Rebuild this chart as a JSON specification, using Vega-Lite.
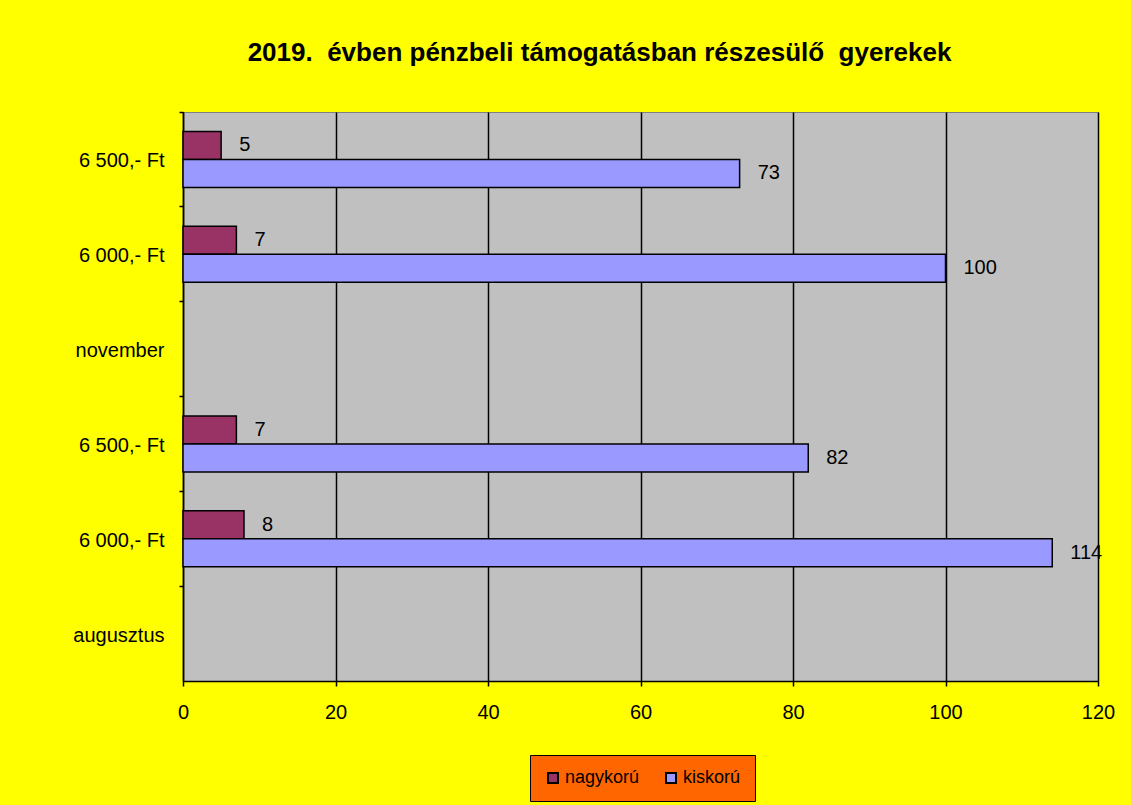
{
  "$schema": "https://vega.github.io/schema/vega-lite/v6.json",
  "width": 915,
  "height": 569,
  "autosize": {"type": "none"},
  "padding": {"left": 183, "top": 112, "right": 33, "bottom": 124},
  "background": "#FFFF00",
  "title": {
    "text": "2019.\u00a0 évben pénzbeli támogatásban részesülő\u00a0 gyerekek",
    "font": "Liberation Sans",
    "fontSize": 26,
    "fontWeight": "bold",
    "color": "black",
    "anchor": "middle",
    "frame": "group",
    "dx": -41,
    "baseline": "alphabetic",
    "offset": 24
  },
  "config": {
    "view": {"fill": "#C0C0C0", "stroke": "#808080", "strokeWidth": 1},
    "font": "Liberation Sans"
  },
  "data": {
    "values": [
      {"cat": "c1", "series": "nagykorú", "value": 5},
      {"cat": "c1", "series": "kiskorú", "value": 73},
      {"cat": "c2", "series": "nagykorú", "value": 7},
      {"cat": "c2", "series": "kiskorú", "value": 100},
      {"cat": "c4", "series": "nagykorú", "value": 7},
      {"cat": "c4", "series": "kiskorú", "value": 82},
      {"cat": "c5", "series": "nagykorú", "value": 8},
      {"cat": "c5", "series": "kiskorú", "value": 114}
    ]
  },
  "encoding": {
    "y": {
      "field": "cat",
      "type": "nominal",
      "scale": {"domain": ["c1", "c2", "c3", "c4", "c5", "c6"], "paddingInner": 0, "paddingOuter": 0},
      "axis": {
        "title": null,
        "bandPosition": 0,
        "labelExpr": "datum.value == 'c1' ? '6 500,- Ft' : datum.value == 'c2' ? '6 000,- Ft' : datum.value == 'c3' ? 'november' : datum.value == 'c4' ? '6 500,- Ft' : datum.value == 'c5' ? '6 000,- Ft' : 'augusztus'",
        "labelFont": "Liberation Sans",
        "labelFontSize": 20,
        "labelColor": "black",
        "labelPadding": 15,
        "labelOffset": 2,
        "tickSize": 4,
        "tickColor": "black",
        "tickWidth": 1.5,
        "domainColor": "black",
        "domainWidth": 1.5,
        "grid": false
      }
    },
    "yOffset": {
      "field": "series",
      "type": "nominal",
      "scale": {"domain": ["nagykorú", "kiskorú"], "paddingInner": 0, "paddingOuter": 0.693}
    },
    "x": {
      "field": "value",
      "type": "quantitative",
      "scale": {"domain": [0, 120], "nice": false, "zero": true},
      "axis": {
        "title": null,
        "values": [0, 20, 40, 60, 80, 100, 120],
        "labelFlush": false,
        "labelFont": "Liberation Sans",
        "labelFontSize": 20,
        "labelColor": "black",
        "labelPadding": 16,
        "tickSize": 5,
        "tickColor": "black",
        "tickWidth": 1.5,
        "domainColor": "black",
        "domainWidth": 1.5,
        "grid": true,
        "gridColor": "black",
        "gridWidth": 1.5,
        "gridOpacity": 1
      }
    }
  },
  "layer": [
    {
      "mark": {"type": "bar", "stroke": "black", "strokeWidth": 1.5},
      "encoding": {
        "color": {
          "field": "series",
          "type": "nominal",
          "scale": {"domain": ["nagykorú", "kiskorú"], "range": ["#993366", "#9999FF"]},
          "legend": {
            "title": null,
            "orient": "none",
            "legendX": 347,
            "legendY": 643,
            "direction": "horizontal",
            "fillColor": "#FF6600",
            "strokeColor": "black",
            "padding": 14,
            "symbolType": "square",
            "symbolSize": 100,
            "symbolStrokeColor": "black",
            "symbolStrokeWidth": 2,
            "symbolOpacity": 1,
            "labelFont": "Liberation Sans",
            "labelFontSize": 18,
            "labelColor": "black",
            "labelOffset": 3,
            "columnPadding": 22
          }
        }
      }
    },
    {
      "mark": {"type": "text", "align": "left", "baseline": "middle", "dx": 18, "font": "Liberation Sans", "fontSize": 20, "color": "black"},
      "encoding": {
        "text": {"field": "value", "type": "quantitative"}
      }
    }
  ]
}
